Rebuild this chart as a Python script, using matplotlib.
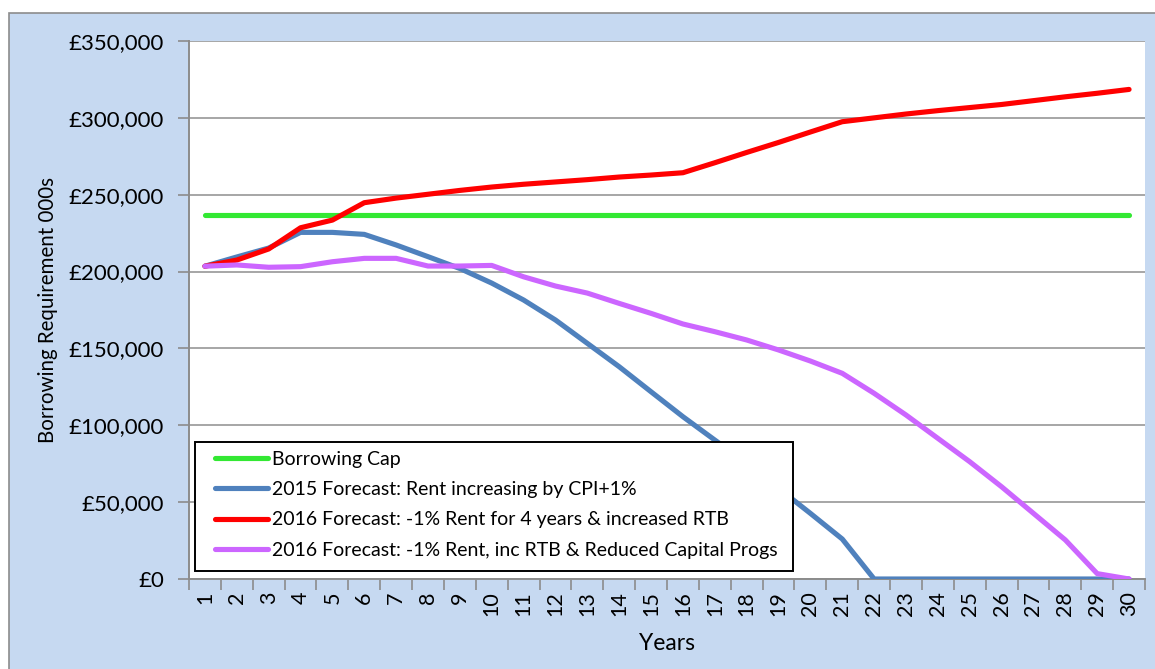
import matplotlib
matplotlib.use("Agg")
import matplotlib.pyplot as plt
from matplotlib.patches import Rectangle
from matplotlib.ticker import FuncFormatter, FixedLocator

plt.rcParams['font.family'] = ['Lato', 'DejaVu Sans']

years = list(range(1, 31))
borrowing_cap = [237000] * 30
forecast_2015 = [203500, 209500, 215300, 225500, 225500, 224200, 217300, 209700, 202000, 192500,
                 181500, 168500, 153300, 138100, 121800, 105600, 90400, 75300, 59000, 42700,
                 26000, 0, 0, 0, 0, 0, 0, 0, 0, 0]
forecast_2016 = [203500, 207500, 214700, 228500, 233500, 244800, 247800, 250300, 252800, 255000,
                 256800, 258300, 259800, 261500, 262800, 264300, 270800, 277500, 284000, 290800,
                 297500, 300000, 302500, 304700, 306700, 308700, 311200, 313700, 316000, 318500]
forecast_2016_reduced = [203500, 204300, 202800, 203200, 206400, 208600, 208600, 203600, 203600, 204000,
                         196600, 190600, 186000, 179300, 172800, 165900, 160900, 155500, 149000, 141800,
                         133800, 120800, 106700, 91500, 76300, 60000, 42700, 25400, 3500, 0]

labels = ["Borrowing Cap",
          "2015 Forecast: Rent increasing by CPI+1%",
          "2016 Forecast: -1% Rent for 4 years & increased RTB",
          "2016 Forecast: -1% Rent, inc RTB & Reduced Capital Progs"]
colors = ["#33E833", "#4F81BD", "#FF0000", "#CC66FF"]

fig = plt.figure(figsize=(11.55, 6.69), dpi=100)
W, H = 1155, 669
bg = Rectangle((9 / W, -0.1), 1.2, (669 - 13) / H + 0.1, transform=fig.transFigure,
               facecolor="#C6D9F1", edgecolor="#8C8C8C", linewidth=1.2, zorder=-10)
fig.add_artist(bg)

x0, x1, y0, y1 = 189, 1145, 41, 579
ax = fig.add_axes([x0 / W, (H - y1) / H, (x1 - x0) / W, (y1 - y0) / H])
ax.set_zorder(5)
ax.set_facecolor("white")

series = [borrowing_cap, forecast_2015, forecast_2016, forecast_2016_reduced]
for vals, c, lab in zip(series, colors, labels):
    ax.plot(years, vals, color=c, linewidth=3.7, label=lab, solid_capstyle="round",
            solid_joinstyle="round", zorder=3)

ax.set_xlim(0.5, 30.5)
ax.set_ylim(0, 350000)
ax.set_yticks(range(0, 350001, 50000))
ax.yaxis.set_major_formatter(FuncFormatter(lambda v, p: "£{:,.0f}".format(v)))
ax.grid(axis="y", color="#A6A6A6", linewidth=1.4, zorder=1)
ax.set_axisbelow(True)

ax.set_xticks(years)
ax.set_xticklabels([str(y) for y in years], rotation=90, va="top", ha="center")
ax.xaxis.set_minor_locator(FixedLocator([i + 0.5 for i in range(0, 31)]))
ax.tick_params(axis="x", which="major", length=0, pad=9, labelsize=15.5)
ax.tick_params(axis="x", which="minor", length=8, width=1.2, color="#8C8C8C", direction="out")
ax.tick_params(axis="y", which="major", length=8, width=1.2, color="#8C8C8C", labelsize=16, pad=10)

for s in ["top", "right"]:
    ax.spines[s].set_visible(False)
for s in ["left", "bottom"]:
    ax.spines[s].set_color("#8C8C8C")
    ax.spines[s].set_linewidth(1.4)

ax.set_xlabel("Years", fontsize=16.5, labelpad=12)
ax.set_ylabel("Borrowing Requirement 000s", fontsize=14.8, labelpad=8)

# legend frame drawn separately (wider horizontal padding than vertical)
fx0, fx1, fy0, fy1 = 195, 793, 442, 571
frame = Rectangle(((fx0 - x0) / (x1 - x0), (y1 - fy1) / (y1 - y0)),
                  (fx1 - fx0) / (x1 - x0), (fy1 - fy0) / (y1 - y0),
                  transform=ax.transAxes, facecolor="white", edgecolor="black",
                  linewidth=1.4, zorder=6)
ax.add_patch(frame)
leg = ax.legend(loc="upper left",
                bbox_to_anchor=((215 - x0) / (x1 - x0), (y1 - 451) / (y1 - y0)),
                fontsize=14, frameon=False, borderaxespad=0, borderpad=0,
                handlelength=2.7, handletextpad=0.22, labelspacing=0.68)
leg.set_zorder(7)

fig.savefig("out.png", dpi=100, facecolor="white")
